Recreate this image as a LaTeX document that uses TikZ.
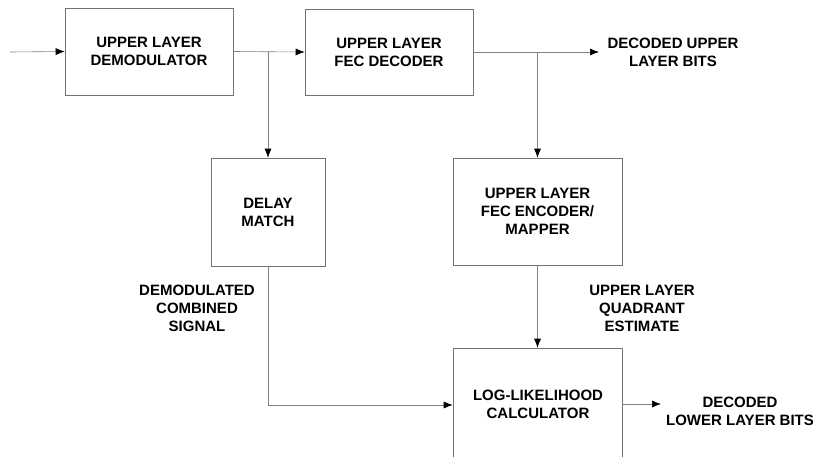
\documentclass[tikz,border=0pt]{standalone}
\usepackage{fontspec}
\setmainfont{Liberation Sans}
\usetikzlibrary{arrows.meta}
\begin{document}
\begin{tikzpicture}[x=1pt,y=-1pt,
  blk/.style={draw=black!55,line width=0.6pt,inner sep=0pt},
  txt/.style={font=\fontsize{15}{18}\selectfont\bfseries,align=center,inner sep=0pt},
  conn/.style={draw=black!50,line width=0.6pt},
  arr/.style={conn,-{Latex[length=9pt,width=7pt,black]}}]
\useasboundingbox (0,0) rectangle (813,456);
\clip (0,0) rectangle (813,456);
\node[blk,minimum width=168pt,minimum height=87pt,txt] (d1) at (149,51.5) {UPPER LAYER\\DEMODULATOR};
\node[blk,minimum width=168pt,minimum height=86pt,txt] (d2) at (389,52) {UPPER LAYER\\FEC DECODER};
\node[blk,minimum width=114pt,minimum height=108pt,txt] (delay) at (268,212) {DELAY\\MATCH};
\node[blk,minimum width=169pt,minimum height=107pt,txt] (enc) at (537.5,211.5) {UPPER LAYER\\FEC ENCODER/\\MAPPER};
\node[blk,minimum width=169pt,minimum height=130pt] (llr) at (537.5,413) {};
\node[txt] (llrt) at (538,404) {LOG-LIKELIHOOD\\CALCULATOR};
\node[txt] (o1) at (673,52) {DECODED UPPER\\LAYER BITS};
\node[txt] (o2) at (740,411) {DECODED\\LOWER LAYER BITS};
\node[txt] (l1) at (197,308) {DEMODULATED\\COMBINED\\SIGNAL};
\node[txt] (l2) at (642,308) {UPPER LAYER\\QUADRANT\\ESTIMATE};
\coordinate (in) at (10,52);
\coordinate (out1) at (599,52);
\coordinate (out2) at (661,404);
\draw[arr] (in) -- (d1.west);
\draw[arr] (d1.east) -- (d2.west);
\draw[arr] (d2.east) -- (out1);
\draw[arr] (delay.north |- d1.east) -- (delay.north);
\draw[arr] (enc.north |- d2.east) -- (enc.north);
\draw[arr] (enc.south) -- (llr.north);
\draw[arr] (delay.south) |- (llr.west |- 0,405);
\draw[arr] (llr.east |- llrt) -- (out2);
\end{tikzpicture}
\end{document}
